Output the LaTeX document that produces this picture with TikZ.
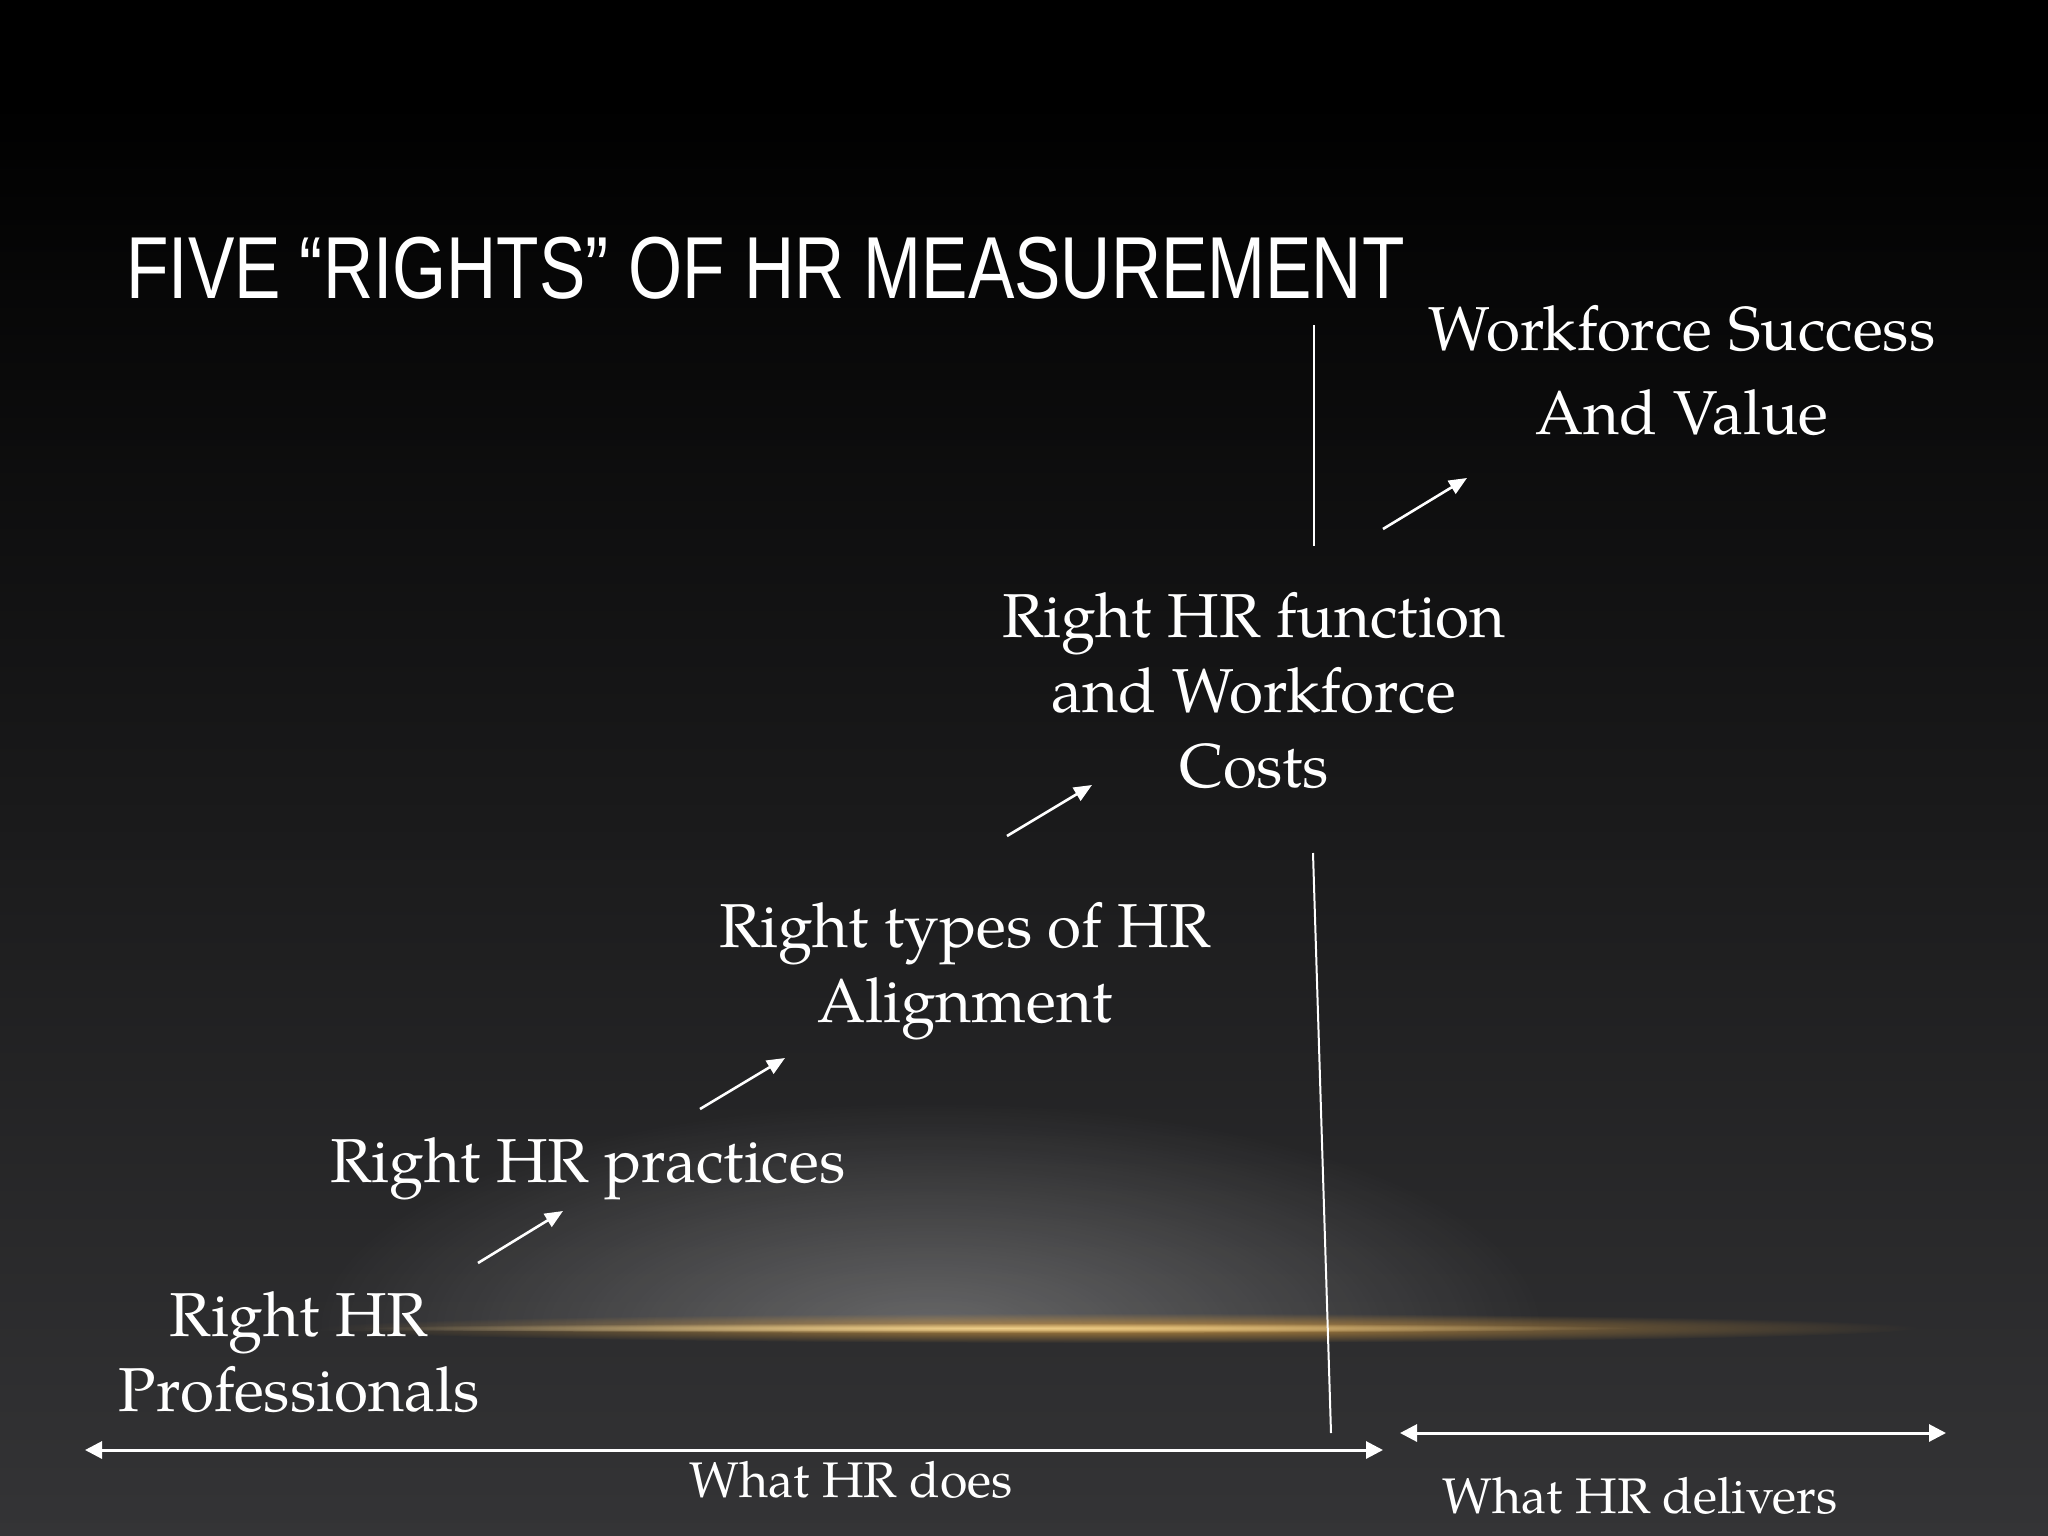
\documentclass[tikz,border=0pt]{standalone}
\usepackage{fontspec}
\setmainfont{TeX Gyre Pagella}
\newfontfamily\titlefont[FakeStretch=0.79]{Liberation Sans}
\usetikzlibrary{arrows.meta,fadings}
\definecolor{bgbot}{RGB}{52,52,54}
\definecolor{streakc}{RGB}{205,150,65}
\definecolor{streakcore}{RGB}{250,220,150}
\tikzfading[name=radfade, inner color=transparent!0, outer color=transparent!100]
\tikzset{
  lbl/.style={text=white, align=center, inner sep=0pt, anchor=base, font=\fontsize{62}{75}\selectfont},
  small/.style={text=white, inner sep=0pt, anchor=base, font=\fontsize{50}{60}\selectfont},
  sarrow/.style={draw=white, line width=2.6pt, -{Triangle[length=18pt,width=15pt]}},
  darrow/.style={draw=white, line width=3pt, {Triangle[length=17pt,width=17pt]}-{Triangle[length=17pt,width=17pt]}},
  vline/.style={draw=white, line width=2pt}
}
\begin{document}
\begin{tikzpicture}[x=1pt,y=-1pt]
\useasboundingbox (0,0) rectangle (2048,1536);
% background
\fill[black] (0,0) rectangle (2048,1536);
\shade[top color=black, bottom color=bgbot] (0,100) rectangle (2048,1536);
% glow haze above the streak
\begin{scope}
  \clip (0,0) rectangle (2048,1330);
  \fill[white, opacity=0.28, path fading=radfade] (930,1330) ellipse [x radius=620, y radius=230];
\end{scope}
% golden streak
\fill[streakc, opacity=0.85, path fading=radfade] (1120,1328) ellipse [x radius=800, y radius=15];
\fill[streakcore, opacity=0.85, path fading=radfade] (1000,1328) ellipse [x radius=640, y radius=5];

% title
\node[anchor=base west, text=white, inner sep=0pt, font=\titlefont\fontsize{88}{100}\selectfont] (title) at (126,298) {FIVE “RIGHTS” OF HR MEASUREMENT};

% labels (multi-line nodes: base = last baseline)
\node[lbl, font=\fontsize{62}{84}\selectfont] (wsv) at (1682,434) {Workforce Success\\And Value};
\node[lbl] (func) at (1254,787) {Right HR function\\and Workforce\\Costs};
\node[lbl] (align) at (965,1022) {Right types of HR\\Alignment};
\node[lbl] (prac) at (588,1182) {Right HR practices};
\node[lbl] (prof) at (299,1411) {Right HR\\Professionals};
\node[small] (does) at (851,1497) {What HR does};
\node[small] (deliv) at (1640,1513) {What HR delivers};

% arrow end points
\coordinate (a1s) at (478,1263); \coordinate (a1e) at (563,1211);
\coordinate (a2s) at (700,1109); \coordinate (a2e) at (785,1058);
\coordinate (a3s) at (1007,836); \coordinate (a3e) at (1092,785);
\coordinate (a4s) at (1383,529); \coordinate (a4e) at (1467,478);
\draw[sarrow] (a1s) -- (a1e);
\draw[sarrow] (a2s) -- (a2e);
\draw[sarrow] (a3s) -- (a3e);
\draw[sarrow] (a4s) -- (a4e);

% divider lines
\coordinate (v1a) at (1314,325); \coordinate (v1b) at (1314,546);
\coordinate (v2a) at (1313,853); \coordinate (v2b) at (1331,1433);
\draw[vline] (v1a) -- (v1b);
\draw[vline] (v2a) -- (v2b);

% range arrows
\coordinate (d1a) at (85,1450); \coordinate (d1b) at (1383,1450);
\coordinate (d2a) at (1400,1433); \coordinate (d2b) at (1946,1433);
\draw[darrow] (d1a) -- (d1b);
\draw[darrow] (d2a) -- (d2b);
\end{tikzpicture}
\end{document}
